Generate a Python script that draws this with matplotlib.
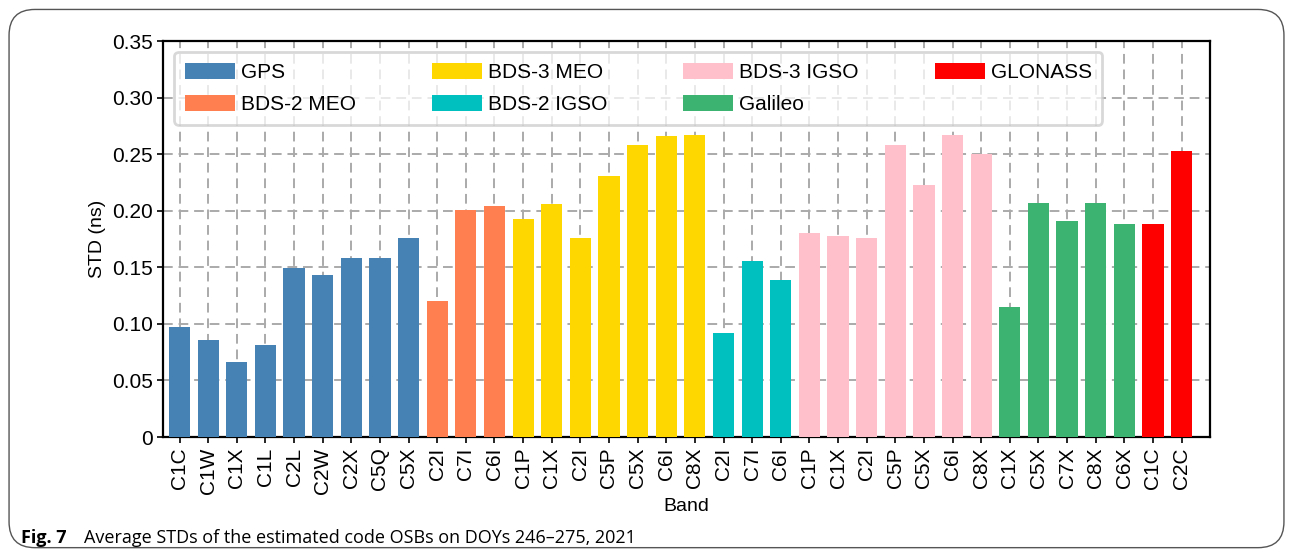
import matplotlib.pyplot as plt
from matplotlib.patches import FancyBboxPatch

plt.rcParams['font.family'] = ['Liberation Sans', 'DejaVu Sans']

# STD of code OSBs per system / band (ns)
systems = ['GPS', 'BDS-2 MEO', 'BDS-3 MEO', 'BDS-2 IGSO', 'BDS-3 IGSO', 'Galileo', 'GLONASS']
colors = ['#4682B4', '#FF7F50', '#FFD700', '#00BFBF', '#FFC0CB', '#3CB371', '#FF0000']

gps_bands = ['C1C', 'C1W', 'C1X', 'C1L', 'C2L', 'C2W', 'C2X', 'C5Q', 'C5X']
gps_std = [0.097, 0.086, 0.066, 0.081, 0.149, 0.143, 0.158, 0.158, 0.176]
bds2_meo_bands = ['C2I', 'C7I', 'C6I']
bds2_meo_std = [0.120, 0.201, 0.204]
bds3_meo_bands = ['C1P', 'C1X', 'C2I', 'C5P', 'C5X', 'C6I', 'C8X']
bds3_meo_std = [0.193, 0.206, 0.176, 0.231, 0.258, 0.266, 0.267]
bds2_igso_bands = ['C2I', 'C7I', 'C6I']
bds2_igso_std = [0.092, 0.156, 0.139]
bds3_igso_bands = ['C1P', 'C1X', 'C2I', 'C5P', 'C5X', 'C6I', 'C8X']
bds3_igso_std = [0.180, 0.178, 0.176, 0.258, 0.223, 0.267, 0.250]
gal_bands = ['C1X', 'C5X', 'C7X', 'C8X', 'C6X']
gal_std = [0.115, 0.207, 0.191, 0.207, 0.188]
glo_bands = ['C1C', 'C2C']
glo_std = [0.188, 0.253]

groups = [(gps_bands, gps_std), (bds2_meo_bands, bds2_meo_std),
          (bds3_meo_bands, bds3_meo_std), (bds2_igso_bands, bds2_igso_std),
          (bds3_igso_bands, bds3_igso_std), (gal_bands, gal_std),
          (glo_bands, glo_std)]

fig = plt.figure(figsize=(12.93, 5.56), dpi=100)
ax = fig.add_axes([0.126, 0.214, 0.810, 0.712])

labels = []
pos = 0
for name, col, (bands, vals) in zip(systems, colors, groups):
    xs = list(range(pos, pos + len(bands)))
    ax.bar(xs, vals, width=0.74, color=col, label=name, zorder=3)
    labels += bands
    pos += len(bands)

ax.set_xticks(range(len(labels)))
ax.set_xticklabels(labels, rotation=90, fontsize=15)
ax.set_xlim(-0.58, len(labels))
ax.set_ylim(0, 0.35)
ax.set_yticks([i * 0.05 for i in range(8)])
ax.set_yticklabels(['0', '0.05', '0.10', '0.15', '0.20', '0.25', '0.30', '0.35'], fontsize=15)
ax.set_ylabel('STD (ns)', fontsize=14)
ax.set_xlabel('Band', fontsize=14, labelpad=3)
ax.grid(True, linestyle=(0, (5, 3)), color='#aaaaaa', linewidth=1.4, zorder=0)
for sp in ax.spines.values():
    sp.set_linewidth(1.6)
ax.tick_params(length=4, width=1.2)

leg = ax.legend(loc='upper left', ncol=4, mode='expand', bbox_to_anchor=(0.011, 0.972, 0.886, 0.0),
                borderaxespad=0, fontsize=15, handlelength=2.4, handleheight=0.85,
                handletextpad=0.3, borderpad=0.5, labelspacing=0.6, framealpha=0.75,
                edgecolor='#cccccc', fancybox=True)
leg.get_frame().set_linewidth(2.0)

# outer rounded frame and caption
frame = FancyBboxPatch((0.007, 0.015), 0.986, 0.968, boxstyle='round,pad=0,rounding_size=0.02',
                       transform=fig.transFigure, fill=False, edgecolor='#555555', linewidth=1.0,
                       mutation_aspect=1293 / 556)
fig.patches.append(frame)
fig.text(0.016, 0.024, 'Fig. 7', fontsize=13, fontweight='bold', family='Open Sans')
fig.text(0.065, 0.024, 'Average STDs of the estimated code OSBs on DOYs 246–275, 2021',
         fontsize=13, family='Open Sans')

fig.savefig('out.png', dpi=100)
